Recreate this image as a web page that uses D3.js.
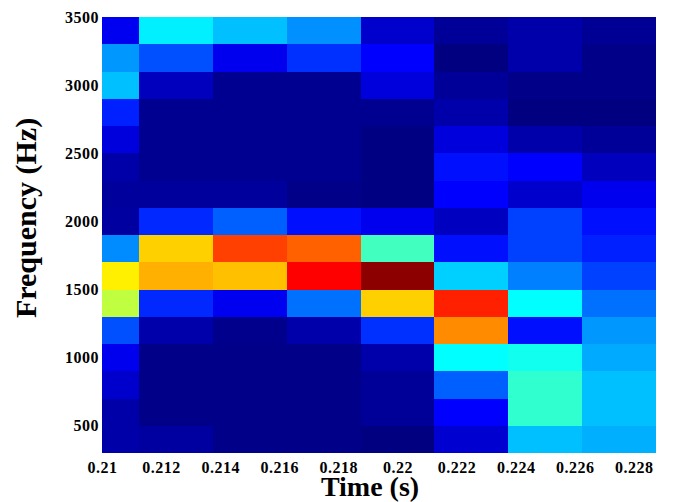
<!DOCTYPE html>
<html>
<head>
<meta charset="utf-8">
<script src="https://cdn.jsdelivr.net/npm/d3@7"></script>
<style>
  html, body { margin: 0; padding: 0; background: #fff; }
  svg { display: block; }
  text { font-family: "Liberation Serif", "Times New Roman", serif; font-weight: bold; fill: #000; }
</style>
</head>
<body>
<svg id="chart" width="680" height="502"></svg>
<script>
// Time frame centres (s)
const times = [0.21, 0.2125, 0.215, 0.2175, 0.22, 0.2225, 0.225, 0.2275];
// Frequency bin centres (Hz), top row first
const freqs = [3400, 3200, 3000, 2800, 2600, 2400, 2200, 2000, 1800, 1600, 1400, 1200, 1000, 800, 600, 400];
// Normalised spectral magnitude, one row per frequency (same order as freqs), one value per time frame
const magnitude = [
  [0.110, 0.360, 0.313, 0.266, 0.075, 0.025, 0.042, 0.020],
  [0.274, 0.203, 0.108, 0.172, 0.125, 0.001, 0.042, 0.008],
  [0.313, 0.060, 0.016, 0.016, 0.092, 0.025, 0.008, 0.008],
  [0.156, 0.016, 0.016, 0.016, 0.016, 0.042, 0.001, 0.001],
  [0.092, 0.016, 0.016, 0.016, 0.002, 0.092, 0.042, 0.025],
  [0.040, 0.016, 0.016, 0.016, 0.002, 0.141, 0.125, 0.060],
  [0.028, 0.028, 0.028, 0.008, 0.002, 0.125, 0.075, 0.108],
  [0.032, 0.164, 0.219, 0.141, 0.108, 0.063, 0.188, 0.141],
  [0.262, 0.671, 0.812, 0.781, 0.438, 0.141, 0.188, 0.156],
  [0.640, 0.702, 0.687, 0.875, 0.988, 0.329, 0.250, 0.188],
  [0.563, 0.164, 0.110, 0.235, 0.671, 0.844, 0.375, 0.235],
  [0.203, 0.042, 0.012, 0.042, 0.172, 0.738, 0.141, 0.274],
  [0.108, 0.008, 0.008, 0.008, 0.042, 0.375, 0.391, 0.292],
  [0.075, 0.008, 0.008, 0.008, 0.025, 0.219, 0.422, 0.313],
  [0.040, 0.008, 0.008, 0.008, 0.025, 0.125, 0.422, 0.313],
  [0.040, 0.032, 0.008, 0.008, 0.001, 0.079, 0.313, 0.298]
];
const xTicks = [0.21, 0.212, 0.214, 0.216, 0.218, 0.22, 0.222, 0.224, 0.226, 0.228];
const xTickLabels = ["0.21", "0.212", "0.214", "0.216", "0.218", "0.22", "0.222", "0.224", "0.226", "0.228"];
const yTicks = [500, 1000, 1500, 2000, 2500, 3000, 3500];
const yTickLabels = ["500", "1000", "1500", "2000", "2500", "3000", "3500"];
const frameStep = 0.0025;
const binStep = 200;

// MATLAB-style jet colormap
function jet(t) {
  t = Math.max(0, Math.min(1, t));
  const r = Math.max(0, Math.min(1, Math.min(4 * t - 1.5, -4 * t + 4.5)));
  const g = Math.max(0, Math.min(1, Math.min(4 * t - 0.5, -4 * t + 3.5)));
  const b = Math.max(0, Math.min(1, Math.min(4 * t + 0.5, -4 * t + 2.5)));
  return d3.rgb(r * 255, g * 255, b * 255).toString();
}

const svg = d3.select("#chart");
const plotLeft = 102, plotRight = 656, plotTop = 17, plotBottom = 453;

const x = d3.scaleLinear().domain([0.21, 0.22875]).range([plotLeft, plotRight]);
const y = d3.scaleLinear().domain([300, 3500]).range([plotBottom, plotTop]);
const color = d3.scaleSequential(jet).domain([0, 1]);

svg.append("defs").append("clipPath").attr("id", "plotclip")
  .append("rect").attr("x", plotLeft).attr("y", plotTop)
  .attr("width", plotRight - plotLeft).attr("height", plotBottom - plotTop);

const cells = [];
freqs.forEach((f, i) => times.forEach((t, j) => cells.push({ t, f, v: magnitude[i][j] })));

svg.append("g").attr("clip-path", "url(#plotclip)")
  .selectAll("rect").data(cells).join("rect")
  .attr("x", d => x(d.t - frameStep / 2))
  .attr("width", d => x(d.t + frameStep / 2) - x(d.t - frameStep / 2) + 0.5)
  .attr("y", d => y(d.f + binStep / 2))
  .attr("height", d => y(d.f - binStep / 2) - y(d.f + binStep / 2) + 0.5)
  .attr("fill", d => color(d.v))
  .attr("shape-rendering", "crispEdges");

const xAxis = d3.axisBottom(x).tickValues(xTicks)
  .tickFormat((d, i) => xTickLabels[i]).tickSize(0).tickPadding(9);
const gx = svg.append("g").attr("transform", `translate(0,${plotBottom})`).call(xAxis);
gx.select(".domain").remove();
gx.selectAll("text").attr("font-size", 16).attr("letter-spacing", "0.5px")
  .style("font-family", "'Liberation Serif', serif").style("font-weight", "bold").attr("fill", "#000");

const yAxis = d3.axisLeft(y).tickValues(yTicks)
  .tickFormat((d, i) => yTickLabels[i]).tickSize(0).tickPadding(3);
const gy = svg.append("g").attr("transform", `translate(${plotLeft},0)`).call(yAxis);
gy.select(".domain").remove();
gy.selectAll("text").attr("font-size", 16).attr("letter-spacing", "0.5px")
  .style("font-family", "'Liberation Serif', serif").style("font-weight", "bold").attr("fill", "#000");

svg.append("text").attr("x", 370).attr("y", 496).attr("text-anchor", "middle")
  .attr("font-size", 28).text("Time (s)");

svg.append("text").attr("transform", "translate(36,218) rotate(-90)")
  .attr("text-anchor", "middle").attr("font-size", 30).text("Frequency (Hz)");
</script>
</body>
</html>
